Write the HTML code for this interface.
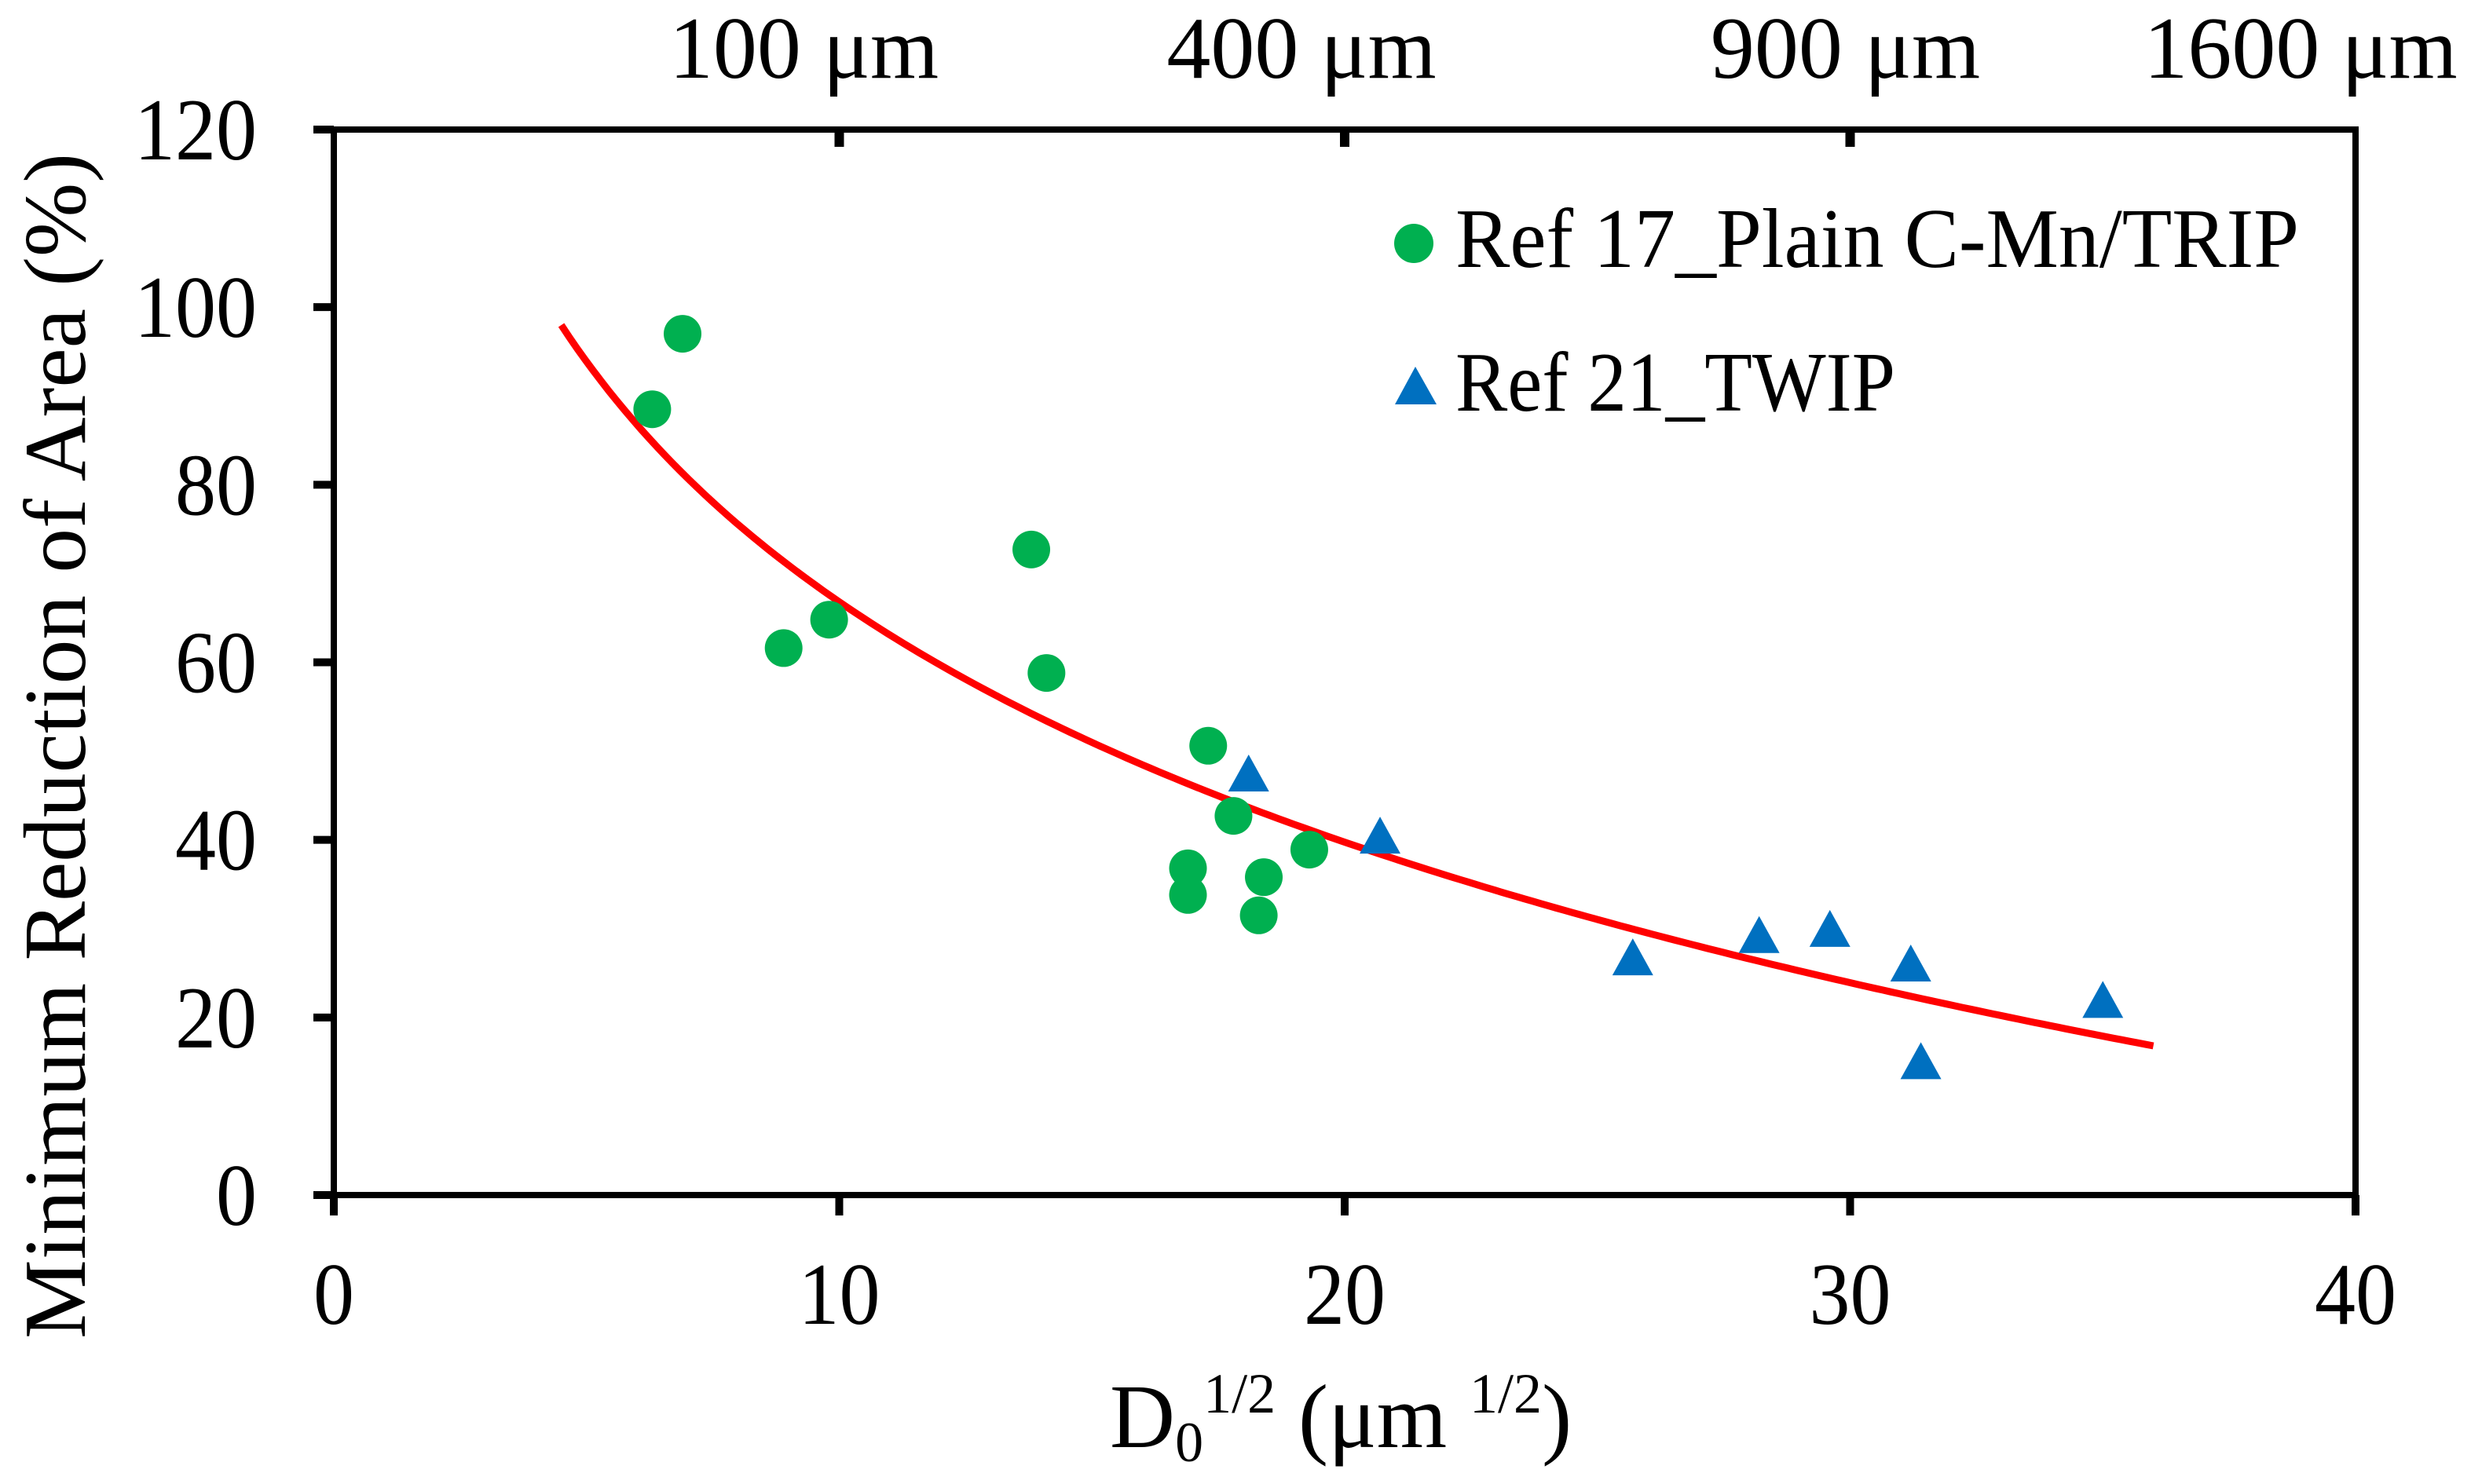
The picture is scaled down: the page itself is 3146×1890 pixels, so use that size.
<!DOCTYPE html>
<html><head><meta charset="utf-8"><style>
html,body{margin:0;padding:0;background:#fff;}
svg{display:block;}
text{font-family:"Liberation Serif","DejaVu Serif",serif;fill:#000;}
</style></head><body>
<svg id="chart" width="3146" height="1890" viewBox="0 0 3146 1890" xmlns="http://www.w3.org/2000/svg">
<g id="plot"></g>
</svg>
<script>
const xTicks = [0, 10, 20, 30, 40];
const yTicks = [0, 20, 40, 60, 80, 100, 120];
const topTickLabels = ["100 μm", "400 μm", "900 μm", "1600 μm"];
const topTickValues = [10, 20, 30, 40];
const trip_x = [6.3, 6.9, 8.9, 9.8, 13.8, 14.1, 17.3, 17.8, 16.9, 16.9, 18.4, 18.3, 19.3];
const trip_y = [88.5, 97, 61.6, 64.8, 72.7, 58.8, 50.6, 42.7, 36.8, 33.8, 35.8, 31.5, 38.9];
const twip_x = [18.1, 20.7, 25.7, 28.2, 29.6, 31.2, 31.4, 35.0];
const twip_y = [47.4, 40.4, 26.7, 29.2, 29.9, 26.0, 15.0, 21.9];
const fitCoef = [156.7, 39.04];
const fitRange = [4.5, 36];

const NS = "http://www.w3.org/2000/svg";
const g = document.getElementById('plot');
const X0 = 425, X1 = 2999, Y0 = 1522, Y1 = 165;
const xs = v => X0 + (v - 0) / 40 * (X1 - X0);
const ys = v => Y0 - (v - 0) / 120 * (Y0 - Y1);
function mk(tag, attrs, parent) {
  const e = document.createElementNS(NS, tag);
  for (const k in attrs) e.setAttribute(k, attrs[k]);
  (parent || g).appendChild(e);
  return e;
}

// fit curve
let d = "";
for (let i = 0; i <= 200; i++) {
  const x = fitRange[0] + (fitRange[1] - fitRange[0]) * i / 200;
  const y = fitCoef[0] - fitCoef[1] * Math.log(x);
  d += (i ? "L" : "M") + xs(x).toFixed(1) + " " + ys(y).toFixed(1);
}
const curve = mk('path', {d: d, fill: 'none', stroke: '#FF0000', 'stroke-width': 9});



// axes frame
const frame = mk('rect', {x: X0, y: Y1, width: X1 - X0, height: Y0 - Y1, fill: 'none', stroke: '#000', 'stroke-width': 8});



xTicks.forEach(v => {
  const t = mk('line', {x1: xs(v), x2: xs(v), y1: Y0, y2: Y0 + 26, stroke: '#000', 'stroke-width': 10});
  
  
  const l = mk('text', {x: xs(v), y: 1686, 'font-size': 112, 'text-anchor': 'middle', textLength: String(v).length * 52, lengthAdjust: 'spacingAndGlyphs'});
  l.textContent = v;
  
  
});
yTicks.forEach(v => {
  const t = mk('line', {x1: X0 - 26, x2: X0, y1: ys(v), y2: ys(v), stroke: '#000', 'stroke-width': 10});
  
  
  const l = mk('text', {x: 327, y: ys(v) + 38, 'font-size': 112, 'text-anchor': 'end', textLength: String(v).length * 52, lengthAdjust: 'spacingAndGlyphs'});
  l.textContent = v;
  
  
});
const topNudge = [-45, -55, -6, -70];
topTickValues.forEach((v, i) => {
  if (v < 40) {
    const t = mk('line', {x1: xs(v), x2: xs(v), y1: Y1, y2: Y1 + 22, stroke: '#000', 'stroke-width': 12});
    
    
  }
  const l = mk('text', {x: xs(v) + topNudge[i], y: 99, 'font-size': 112, 'text-anchor': 'middle'});
  l.textContent = topTickLabels[i];
  
  
});

// points
trip_x.forEach((x, i) => {
  const c = mk('circle', {cx: xs(x), cy: ys(trip_y[i]), r: 24, fill: '#00B050'});
  
  
});
function tri(cx, cy) {
  return `${cx},${cy - 25} ${cx - 26},${cy + 22} ${cx + 26},${cy + 22}`;
}
twip_x.forEach((x, i) => {
  const p = mk('polygon', {points: tri(xs(x), ys(twip_y[i])), fill: '#0070C0'});
  
  
});

// legend
const lg = mk('g', {});


const ld = mk('circle', {cx: 1800, cy: 310, r: 25, fill: '#00B050'}, lg);


const lt1 = mk('text', {x: 1853, y: 340, 'font-size': 108, textLength: 1074, lengthAdjust: 'spacingAndGlyphs'}, lg);
lt1.textContent = "Ref 17_Plain C-Mn/TRIP";


const lm2 = mk('polygon', {points: "1802,467 1776,515 1829,515", fill: '#0070C0'}, lg);


const lt2 = mk('text', {x: 1853, y: 523, 'font-size': 108, textLength: 560, lengthAdjust: 'spacingAndGlyphs'}, lg);
lt2.textContent = "Ref 21_TWIP";


</script>
<svg style="position:absolute;left:0;top:0" width="3146" height="1890" viewBox="0 0 3146 1890" xmlns="http://www.w3.org/2000/svg">
<text transform="translate(108,950) rotate(-90)" font-size="112" text-anchor="middle" textLength="1510" lengthAdjust="spacingAndGlyphs">Minimum Reduction of Area (%)</text>
<text x="1413" y="1843" font-size="115">D<tspan font-size="72" dy="18">0</tspan><tspan font-size="72" dy="-62">1/2</tspan><tspan dy="44"> (μm </tspan><tspan font-size="72" dy="-44">1/2</tspan><tspan dy="44">)</tspan></text>
</svg>
</body></html>
